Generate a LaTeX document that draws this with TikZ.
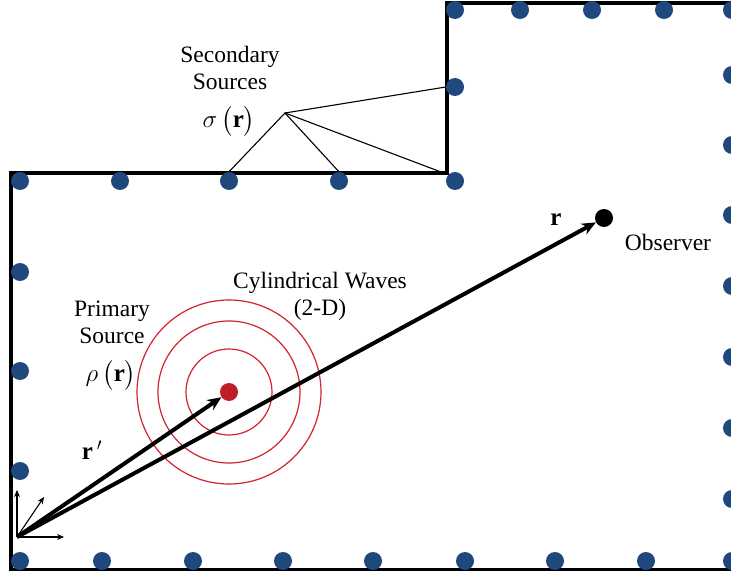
\documentclass[tikz,border=0pt]{standalone}
\usepackage{fontspec}
\setmainfont{Liberation Serif}
\usepackage{amsmath}
\usetikzlibrary{arrows.meta, positioning}
\definecolor{SensorBlue}{RGB}{31,73,125}
\definecolor{WaveRed}{RGB}{210,35,45}
\definecolor{SourceRed}{RGB}{192,30,38}

\begin{document}
\begin{tikzpicture}[
  x=1pt, y=-1pt,
  >=Stealth,
  sensor/.style={circle, fill=SensorBlue, minimum size=18pt, inner sep=0pt},
  txt/.style={font=\fontsize{23.5}{27}\selectfont, align=center, inner sep=0pt},
  mathtxt/.style={font=\fontsize{25}{28}\selectfont, inner sep=0pt},
  wall/.style={line width=3.5pt, line join=miter},
  wave/.style={WaveRed, line width=1.2pt},
  vec/.style={->, line width=4pt, -{Stealth[length=14pt, width=12pt]}},
  axis/.style={-{Stealth[length=7pt, width=6pt]}, line width=1.1pt},
  ray/.style={line width=1.1pt},
]
\useasboundingbox (0,0) rectangle (731,577);

% --- Boundary ---
\draw[wall] (731,3) -- (447,3) -- (447,173) -- (11,173) -- (11,569.5) -- (731,569.5);

% --- Secondary sources on the boundary ---
\foreach \x [count=\i] in {20,102,193,283,373,465,555,646,732}
  \node[sensor] (b\i) at (\x,561) {};
\foreach \x [count=\i] in {20,120,229,339,455}
  \node[sensor] (m\i) at (\x,181) {};
\foreach \y [count=\i] in {272,371,471}
  \node[sensor] (l\i) at (20,\y) {};
\node[sensor] (s1) at (455,87) {};
\foreach \x [count=\i] in {455,520,592,664,732}
  \node[sensor] (t\i) at (\x,10) {};
\foreach \y [count=\i] in {75,145,215,286,357,428,499}
  \node[sensor] (r\i) at (732,\y) {};

% Secondary source label and rays
\node[txt] (secondary) at (230,68) {Secondary\\Sources};
\node[mathtxt] (sigma) at (229,121) {$\sigma\,\bigl(\mathbf{r}\bigr)$};
\coordinate (apex) at (285,113);
\coordinate (corner) at (441,172);
\draw[ray] (m3.north) -- (apex) -- (m4.north);
\draw[ray] (apex) -- (corner);
\draw[ray] (apex) -- (s1.west);

% --- Primary source with cylindrical waves ---
\node[circle, fill=SourceRed, minimum size=18pt, inner sep=0pt] (src) at (229,392) {};
\foreach \r in {43,71,92}
  \draw[wave] (src) circle (\r);
\node[txt] (primary) at (112,322) {Primary\\Source};
\node[mathtxt] (rho) at (111,375) {$\rho\,\bigl(\mathbf{r}\bigr)$};
\node[txt] (waves) at (320,296) {Cylindrical Waves\\(2-D)};

% --- Observer ---
\node[circle, fill=black, minimum size=18pt, inner sep=0pt] (obs) at (604,218) {};
\node[txt] (obslabel) at (668,242) {Observer};

% --- Origin and position vectors ---
\coordinate (origin) at (17,537);
\coordinate (yaxis) at (17,490);
\coordinate (xaxis) at (64,537);
\coordinate (diag) at (44,497);
\draw[axis] (origin) -- (yaxis);
\draw[axis] (origin) -- (xaxis);
\draw[axis] (origin) -- (diag);

\draw[vec] (origin) -- (src);
\draw[vec] (origin) -- (obs);
\node[mathtxt] (rprime) at (92,450) {$\mathbf{r}\,'$};
\node[mathtxt] (rvec) at (556,220) {$\mathbf{r}$};

\end{tikzpicture}
\end{document}
